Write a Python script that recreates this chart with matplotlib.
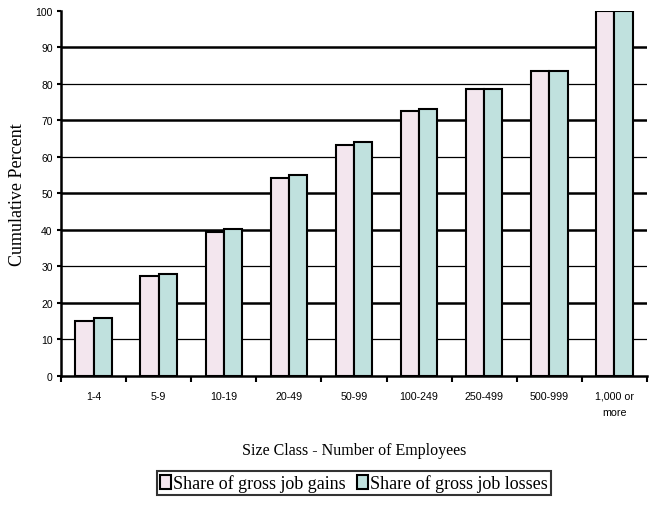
import matplotlib
matplotlib.use("Agg")
import matplotlib.pyplot as plt
import numpy as np
from matplotlib.patches import Patch

categories = ["1-4", "5-9", "10-19", "20-49", "50-99", "100-249", "250-499", "500-999", "1,000 or\nmore"]
gains = [15.0, 27.3, 39.5, 54.2, 63.3, 72.6, 78.6, 83.5, 100.0]
losses = [15.8, 28.0, 40.3, 55.0, 64.0, 73.2, 78.6, 83.5, 100.0]
yticks = [0, 10, 20, 30, 40, 50, 60, 70, 80, 90, 100]

pink = "#F3E6EE"
teal = "#C0E1DE"

fig = plt.figure(figsize=(6.53, 5.06), dpi=100)
ax = fig.add_axes([61/653, 1-376.7/506, (647-61)/653, (376.7-11.7)/506])

x = np.arange(len(categories))
w = 0.28
ax.bar(x - w/2, gains, w, color=pink, edgecolor="black", linewidth=1.5, zorder=3)
ax.bar(x + w/2, losses, w, color=teal, edgecolor="black", linewidth=1.5, zorder=3)

# horizontal gridlines, alternating weights
heavy = {20, 40, 50, 70, 90}
for v in yticks[1:-1]:
    ax.axhline(v, color="black", linewidth=1.8 if v in heavy else 0.9, zorder=1)

ax.set_xlim(-0.5, len(categories) - 0.5)
ax.set_ylim(0, 100)
ax.set_yticks(yticks)
ax.set_yticklabels([str(v) for v in yticks], fontsize=7.5, family="Liberation Sans")
ax.set_xticks(np.arange(len(categories) + 1) - 0.5)
ax.set_xticklabels([])
ax.set_xticks(x, minor=True)
ax.set_xticklabels(categories, minor=True, fontsize=7.7, family="Liberation Sans",
                   linespacing=1.7, va="top")
ax.tick_params(axis="x", which="major", length=4, width=1.5, direction="out")
ax.tick_params(axis="x", which="minor", length=0, pad=11)
ax.tick_params(axis="y", length=3, width=1.5, direction="out", pad=3)

for s in ["top", "right"]:
    ax.spines[s].set_visible(False)
ax.spines["left"].set_linewidth(1.8)
ax.spines["bottom"].set_linewidth(1.8)

ax.set_ylabel("Cumulative Percent", fontsize=13, family="Liberation Serif", labelpad=7)
ax.set_xlabel("Size Class - Number of Employees", fontsize=11.5, family="Liberation Serif", labelpad=18)

handles = [Patch(facecolor=pink, edgecolor="black", linewidth=1.5),
           Patch(facecolor=teal, edgecolor="black", linewidth=1.5)]
leg = fig.legend(handles, ["Share of gross job gains", "Share of gross job losses"],
                 loc="center", bbox_to_anchor=(354/653, 1-484/506), ncol=2,
                 prop={"family": "Liberation Serif", "size": 13},
                 frameon=True, fancybox=False, edgecolor="black",
                 handlelength=0.6, handleheight=0.8, handletextpad=0.15,
                 columnspacing=0.6, borderpad=0.15, borderaxespad=0)
leg.get_frame().set_linewidth(1.5)

fig.savefig("out.png", dpi=100)
